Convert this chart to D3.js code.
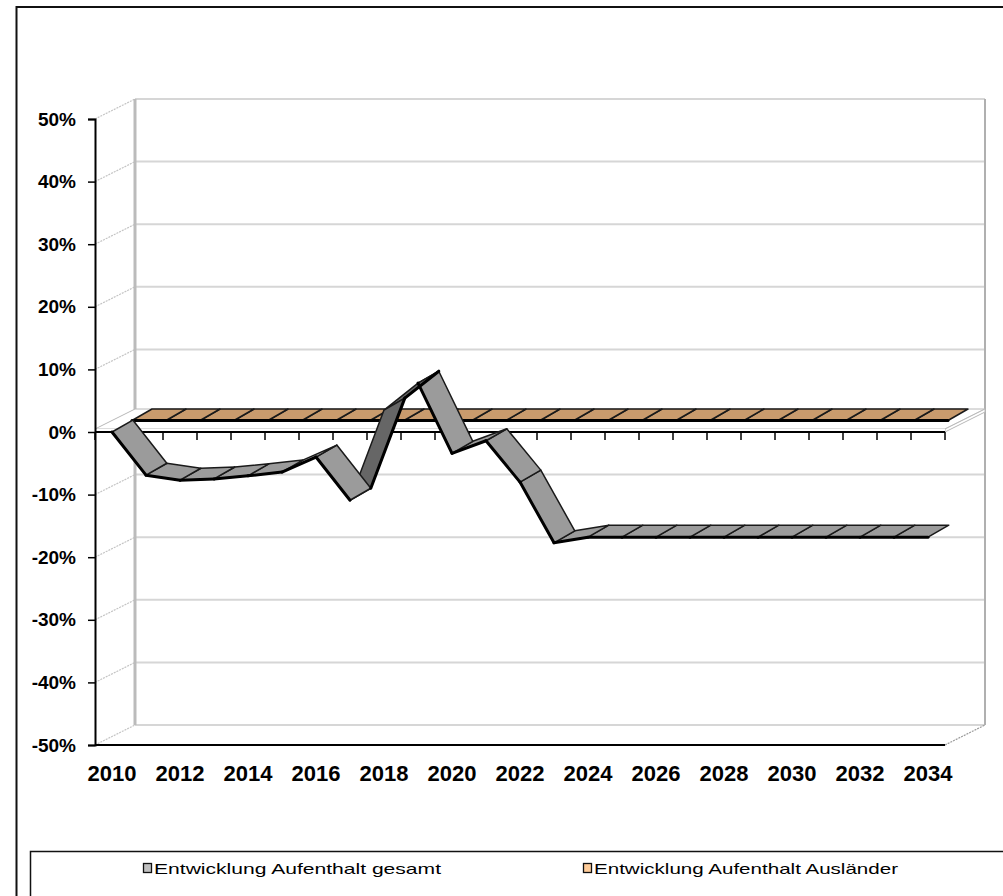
<!DOCTYPE html>
<html>
<head>
<meta charset="utf-8">
<script src="https://cdn.jsdelivr.net/npm/d3@7"></script>
<style>
  html, body { margin: 0; padding: 0; background: #fff; }
  svg { display: block; font-family: "Liberation Sans", Arial, sans-serif; }
</style>
</head>
<body>
<svg id="chart" width="1003" height="896"></svg>
<script>
// Years on the category axis
const years = d3.range(2010, 2035);
// Change in stays, total (share, front row)
const gesamt = [0, -0.069, -0.077, -0.075, -0.070, -0.064, -0.040, -0.109, 0.035, 0.078,
  -0.034, -0.014, -0.080, -0.177, -0.168, -0.168, -0.168, -0.168, -0.168, -0.168,
  -0.168, -0.168, -0.168, -0.168, -0.168];
// Change in stays, foreigners (share, back row)
const auslaender = years.map(() => 0);
// Value axis ticks and labelled years
const yTicks = [-0.5, -0.4, -0.3, -0.2, -0.1, 0, 0.1, 0.2, 0.3, 0.4, 0.5];
const xLabelYears = [2010, 2012, 2014, 2016, 2018, 2020, 2022, 2024, 2026, 2028, 2030, 2032, 2034];
const seriesNames = ["Entwicklung Aufenthalt gesamt", "Entwicklung Aufenthalt Ausländer"];

const svg = d3.select("#chart");

// Front plane of the 3D box and the depth offset to the back wall
const x = d3.scaleBand().domain(years).range([95, 945]).padding(0);
const y = d3.scaleLinear().domain([-0.5, 0.5]).range([745, 119]);
const DX = 40, DY = -20;
const cx = yr => x(yr) + x.bandwidth() / 2;
const proj = (yr, v, f) => [cx(yr) + DX * f, y(v) + DY * f * 1.15];

// Outer chart frame
svg.append("rect").attr("x", 16.5).attr("y", 7).attr("width", 1100).attr("height", 1000)
  .attr("fill", "none").attr("stroke", "#111").attr("stroke-width", 2);

const [x0, x1] = x.range();

// Back wall grid lines
const g = svg.append("g");
g.selectAll(".wall").data(yTicks).join("line")
  .attr("x1", x0 + DX).attr("x2", x1 + DX)
  .attr("y1", d => y(d) + DY).attr("y2", d => y(d) + DY)
  .attr("stroke", "#d6d6d6").attr("stroke-width", 2);
// Side wall grid lines
g.selectAll(".side").data(yTicks).join("line")
  .attr("x1", x0).attr("x2", x0 + DX)
  .attr("y1", d => y(d)).attr("y2", d => y(d) + DY)
  .attr("stroke", "#c4c4c4").attr("stroke-width", 1.2).attr("stroke-dasharray", "2,1");
// Back wall edges
g.append("line").attr("x1", x0 + DX).attr("x2", x0 + DX)
  .attr("y1", y(0.5) + DY).attr("y2", y(-0.5) + DY)
  .attr("stroke", "#bbbbbb").attr("stroke-width", 3);
g.append("line").attr("x1", x1 + DX).attr("x2", x1 + DX)
  .attr("y1", y(0.5) + DY).attr("y2", y(-0.5) + DY)
  .attr("stroke", "#b0b0b0").attr("stroke-width", 2);
// Floor diagonal at the bottom right
g.append("line").attr("x1", x1).attr("x2", x1 + DX)
  .attr("y1", y(-0.5)).attr("y2", y(-0.5) + DY)
  .attr("stroke", "#999").attr("stroke-width", 1.2).attr("stroke-dasharray", "2,1");

// Floor slab where the category axis crosses at 0
const z = y(0);
g.append("path")
  .attr("d", `M${x0},${z - 3}L${x1},${z - 3}L${x1 + DX},${z - 3 + DY}L${x0 + DX},${z - 3 + DY}Z`)
  .attr("fill", "#fff").attr("stroke", "#b8b8b8").attr("stroke-width", 1);
g.append("path")
  .attr("d", `M${x1},${z}L${x1 + DX},${z + DY}L${x1 + DX},${z - 3 + DY}L${x1},${z - 3}Z`)
  .attr("fill", "#fff").attr("stroke", "#b8b8b8").attr("stroke-width", 1);
g.append("rect").attr("x", x0).attr("y", z - 3).attr("width", x1 - x0).attr("height", 3)
  .attr("fill", "#fff");

// Category axis on the 0 line with ticks at band edges
g.append("line").attr("x1", x0).attr("x2", x1).attr("y1", z).attr("y2", z)
  .attr("stroke", "#000").attr("stroke-width", 2);
g.selectAll(".ctick").data(d3.range(years.length + 1)).join("line")
  .attr("x1", i => x0 + i * x.step()).attr("x2", i => x0 + i * x.step())
  .attr("y1", z).attr("y2", z + 8)
  .attr("stroke", "#000").attr("stroke-width", 1.5);

// Ribbon drawing: one quad per segment, lit top or dark underside
function ribbon(values, f0, f1, light, dark) {
  const segs = d3.range(values.length - 1).map(i => {
    const a = proj(years[i], values[i], f0), b = proj(years[i + 1], values[i + 1], f0);
    const c = proj(years[i + 1], values[i + 1], f1), d = proj(years[i], values[i], f1);
    const ex = b[0] - a[0], ey = b[1] - a[1];
    const cross = ex * (d[1] - a[1]) - ey * (d[0] - a[0]);
    return { pts: [a, b, c, d], under: cross > 0 };
  }).reverse();
  const rg = svg.append("g");
  rg.selectAll("path.face").data(segs).join("path")
    .attr("d", s => "M" + s.pts.map(p => p.join(",")).join("L") + "Z")
    .attr("fill", s => s.under ? dark : light)
    .attr("stroke", "#1a1a1a").attr("stroke-width", 1.5).attr("stroke-linejoin", "round");
  rg.selectAll("path.front").data(segs.filter(s => !s.under)).join("path")
    .attr("d", s => `M${s.pts[0].join(",")}L${s.pts[1].join(",")}`)
    .attr("stroke", "#000").attr("stroke-width", 3).attr("stroke-linecap", "round").attr("fill", "none");
  rg.selectAll("path.back").data(segs.filter(s => s.under)).join("path")
    .attr("d", s => `M${s.pts[2].join(",")}L${s.pts[3].join(",")}`)
    .attr("stroke", "#000").attr("stroke-width", 3).attr("stroke-linecap", "round").attr("fill", "none");
}
ribbon(auslaender, 0.5, 1.0, "#c99b6d", "#8a6a4a");
ribbon(gesamt, 0.0, 0.52, "#9b9b9b", "#666666");

// Value axis on the front plane
const pct = d => d3.format(".0%")(d).replace("\u2212", "-");
const yAxis = d3.axisLeft(y).tickValues(yTicks).tickFormat(pct).tickSize(7).tickPadding(12);
const ya = svg.append("g").attr("transform", `translate(${x0},0)`).call(yAxis);
ya.select(".domain").attr("stroke", "#000").attr("stroke-width", 2);
ya.selectAll(".tick line").attr("stroke", "#000").attr("stroke-width", 1.5);
ya.selectAll(".tick text").attr("font-size", 19).attr("font-weight", "bold")
  .attr("fill", "#000").attr("font-family", "'Liberation Sans', Arial, sans-serif");

// Bottom front edge and year labels
svg.append("line").attr("x1", x0).attr("x2", x1).attr("y1", y(-0.5)).attr("y2", y(-0.5))
  .attr("stroke", "#000").attr("stroke-width", 2);
const xAxis = d3.axisBottom(x).tickValues(xLabelYears).tickSize(0).tickPadding(20);
const xa = svg.append("g").attr("transform", `translate(0,${y(-0.5)})`).call(xAxis);
xa.select(".domain").remove();
xa.selectAll(".tick text").attr("font-size", 22).attr("font-weight", "bold")
  .attr("fill", "#000").attr("font-family", "'Liberation Sans', Arial, sans-serif");

// Legend
svg.append("rect").attr("x", 30.5).attr("y", 851.5).attr("width", 1000).attr("height", 100)
  .attr("fill", "#fff").attr("stroke", "#111").attr("stroke-width", 1.5);
const legendItems = [
  { name: seriesNames[0], color: "#c0c0c0", x: 143, w: 287 },
  { name: seriesNames[1], color: "#ffcc99", x: 583, w: 304 }
];
const lg = svg.append("g").selectAll("g").data(legendItems).join("g")
  .attr("transform", d => `translate(${d.x},869)`);
lg.append("rect").attr("x", 0.5).attr("y", -5.5).attr("width", 8).attr("height", 9)
  .attr("fill", d => d.color).attr("stroke", "#111").attr("stroke-width", 1.3);
lg.append("text").attr("x", 11).attr("y", 5).attr("font-size", 15)
  .attr("textLength", d => d.w).attr("lengthAdjust", "spacingAndGlyphs")
  .attr("fill", "#000").text(d => d.name);
</script>
</body>
</html>
